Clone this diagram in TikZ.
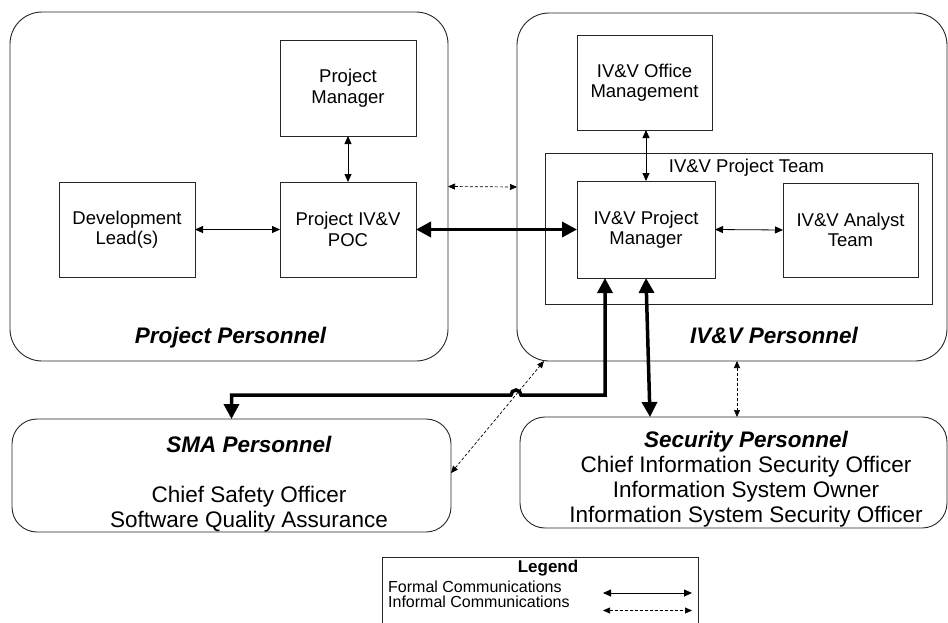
\documentclass[tikz,border=0pt]{standalone}
\usepackage{fontspec}
\setmainfont{Liberation Sans}
\usetikzlibrary{arrows.meta}

\tikzset{
  unitbox/.style={draw=black!85, line width=0.9pt, inner sep=0pt, outer sep=0pt,
    align=center, font=\fontsize{18.5}{20.5}\selectfont},
  groupbox/.style={draw=black!85, line width=0.9pt, rounded corners=#1,
    inner sep=0pt, outer sep=0pt},
  groupbox/.default=32pt,
  grouptitle/.style={inner sep=0pt, font=\fontsize{22.5}{25}\selectfont\bfseries\itshape},
  bodytext/.style={inner sep=0pt, align=center, font=\fontsize{22.5}{25}\selectfont},
  plaintext/.style={inner sep=0pt, font=\fontsize{18.5}{20.5}\selectfont},
  legendtext/.style={inner sep=0pt, font=\fontsize{16}{18}\selectfont},
  formalarrow/.style={line width=0.8pt,
    {Triangle[length=8pt,width=7pt]}-{Triangle[length=8pt,width=7pt]}},
  informalarrow/.style={line width=0.7pt, dash pattern=on 3pt off 2pt,
    {Triangle[length=7pt,width=6pt]}-{Triangle[length=7pt,width=6pt]}},
  strongarrow/.style={line width=3.5pt,
    {Triangle[length=15pt,width=15pt]}-{Triangle[length=15pt,width=15pt]}},
}

\begin{document}
\begin{tikzpicture}[x=1pt,y=-1pt]
\clip (0,0) rectangle (948,622);
\fill[white] (0,0) rectangle (948,622);

% organisation groups
\node[groupbox, minimum width=438pt, minimum height=349pt] (ppers) at (229,186.5) {};
\node[groupbox, minimum width=430pt, minimum height=348pt] (ivpers) at (732,187) {};
\node[groupbox=25pt, minimum width=439pt, minimum height=113pt] (sma) at (231.5,475.5) {};
\node[groupbox=25pt, minimum width=427pt, minimum height=111pt] (sec) at (733.5,472.5) {};
\node[draw=black!85, line width=0.9pt, inner sep=0pt, outer sep=0pt,
      minimum width=387pt, minimum height=151pt] (team) at (738.5,228.5) {};

% roles
\node[unitbox, minimum width=136pt, minimum height=96pt] (pm) at (348,88) {Project\\Manager};
\node[unitbox, minimum width=136pt, minimum height=95pt] (dev) at (127,229.5) {Development\\Lead(s)};
\node[unitbox, minimum width=136pt, minimum height=95pt] (poc) at (348,229.5) {Project IV\&V\\POC};
\node[unitbox, minimum width=135pt, minimum height=95pt] (office) at (644.5,82.5) {IV\&V Office\\Management};
\node[unitbox, minimum width=138pt, minimum height=97pt] (ivpm) at (646,229.5) {IV\&V Project\\Manager};
\node[unitbox, minimum width=135pt, minimum height=94pt] (analyst) at (850.5,230) {IV\&V Analyst\\Team};

% group labels
\node[grouptitle, anchor=base] (ppersT) at (230.5,343) {Project Personnel};
\node[grouptitle, anchor=base] (ivpersT) at (774,343) {IV\&V Personnel};
\node[plaintext, anchor=base] (teamT) at (746.5,172) {IV\&V Project Team};
\node[grouptitle, anchor=base] (smaT) at (249,452) {SMA Personnel};
\node[bodytext] (smaB) at (249,509.6) {Chief Safety Officer\\Software Quality Assurance};
\node[grouptitle, anchor=base] (secT) at (746,447) {Security Personnel};
\node[bodytext] (secB) at (746,491.7) {Chief Information Security Officer\\Information System Owner\\Information System Security Officer};

% formal communications
\draw[formalarrow] (pm.south) -- (poc.north);
\draw[formalarrow] (dev.east) -- (poc.west);
\draw[formalarrow] (office.south -| ivpm.north) -- (ivpm.north);
\draw[formalarrow] (ivpm.east) -- (analyst.west);

% informal communications
\draw[informalarrow] (ppers.east) -- (ivpers.west);
\draw[informalarrow] ([xshift=5pt]ivpers.south) -- ([xshift=3.5pt]sec.north);
\draw[informalarrow] ([yshift=2.5pt]sma.east) -- ([xshift=27pt]ivpers.south west);

% primary lines, with a hop over the dashed line
\coordinate (hop) at (516,395);
\draw[strongarrow] (poc.east) -- (ivpm.west);
\draw[strongarrow] ([xshift=-41pt]ivpm.south) |- ([xshift=5pt]hop)
  arc[start angle=0, end angle=180, radius=5pt] -- (hop -| sma.north) -- (sma.north);
\draw[strongarrow] (ivpm.south) -- ([xshift=-83.5pt]sec.north);

% legend
\node[draw=black!85, line width=0.9pt, inner sep=0pt, outer sep=0pt, anchor=north west,
      minimum width=316pt, minimum height=90pt] (legend) at (382,557) {};
\node[inner sep=0pt, anchor=base, font=\fontsize{17}{20}\selectfont\bfseries] (legT) at (548,572) {Legend};
\node[legendtext, anchor=base west] (legF) at (388,592) {Formal Communications};
\node[legendtext, anchor=base west] (legI) at (388,607.7) {Informal Communications};
\coordinate (fA) at (603,593);
\coordinate (fB) at (692,593);
\coordinate (iA) at (603,610.5);
\coordinate (iB) at (692,610.5);
\draw[formalarrow] (fA) -- (fB);
\draw[informalarrow] (iA) -- (iB);
\end{tikzpicture}
\end{document}
